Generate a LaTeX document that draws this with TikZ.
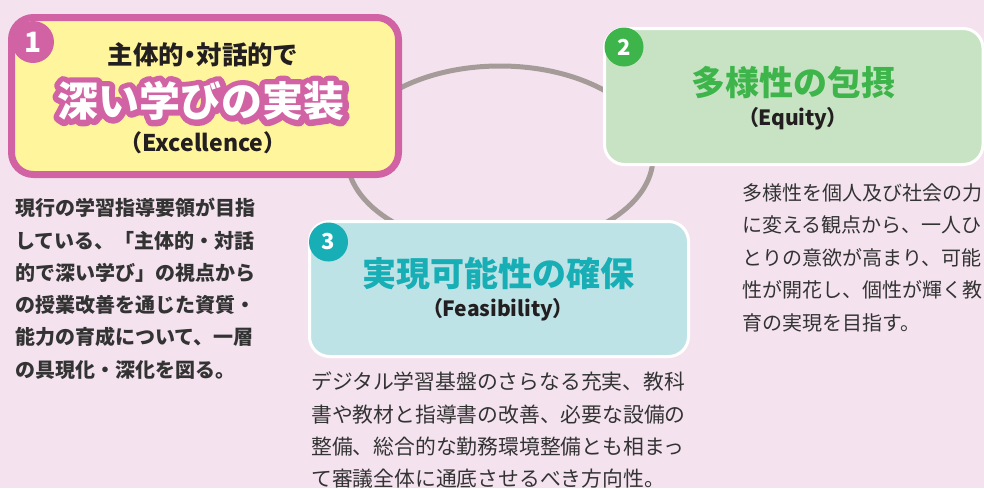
\documentclass[tikz,border=0pt]{standalone}
\usepackage{fontspec}
\setmainfont{Noto Sans CJK JP}
\newfontfamily\jpp[RawFeature=+palt]{Noto Sans CJK JP}
\newfontfamily\jpo[UprightFont=* Bold, FakeBold=30]{Noto Sans CJK JP}
\definecolor{bgc}{HTML}{F4E3EF}
\definecolor{pinkc}{HTML}{D163A4}
\definecolor{yellowc}{HTML}{FFF59D}
\definecolor{greenbox}{HTML}{C8E3C4}
\definecolor{greenc}{HTML}{3DB54A}
\definecolor{tealbox}{HTML}{BEE3E6}
\definecolor{tealc}{HTML}{18AEB5}
\definecolor{ringc}{HTML}{A59B99}
\definecolor{darkc}{HTML}{231F20}
\definecolor{parac}{HTML}{333333}
\begin{document}
\begin{tikzpicture}[x=1pt,y=-1pt,
  ring/.style={draw=ringc, line width=5pt},
  boxone/.style={draw=pinkc, line width=7pt, fill=yellowc, rounded corners=22pt, inner sep=0pt},
  boxw/.style={draw=white, line width=3pt, rounded corners=20pt, inner sep=0pt},
  badge/.style={circle, inner sep=0pt, text=white, font=\bfseries\fontsize{22}{22}\selectfont},
  ttl/.style={inner sep=0pt, font=\bfseries\fontsize{34}{34}\selectfont},
  sub/.style={inner sep=0pt, text=darkc, font=\jpp\bfseries\fontsize{21}{21}\selectfont},
  para/.style={inner sep=0pt, anchor=north west, align=left, text=parac}
]
\useasboundingbox (0,0) rectangle (984,488);
\fill[bgc] (0,0) rectangle (984,488);

% ring connecting the three boxes
\coordinate (rc) at (500,157);
\draw[ring] (rc) ellipse [x radius=153, y radius=91];

% box 1
\node[boxone, minimum width=387pt, minimum height=157pt] (box1) at (205,96) {};
\node[badge, fill=pinkc, minimum size=42pt, font=\bfseries\fontsize{28}{28}\selectfont] (b1) at (33,42) {1};
\node[inner sep=0pt, text=darkc, font=\jpp\bfseries\fontsize{25.5}{25.5}\selectfont] (t1a) at (202,55) {主体的・対話的で};
\begin{scope}[line join=round, line cap=round]
\node[inner sep=0pt, text=pinkc, font=\jpo\fontsize{41}{41}\selectfont] (t1o) at (201,101) {深い学びの実装};
\end{scope}
\node[inner sep=0pt, text=white, font=\bfseries\fontsize{41}{41}\selectfont] (t1b) at (201,101) {深い学びの実装};
\node[sub, font=\jpp\bfseries\fontsize{23}{23}\selectfont] (t1c) at (203,142.5) {（\kern1pt Excellence\kern1pt）};

% box 2
\node[boxw, fill=greenbox, minimum width=378.5pt, minimum height=136pt] (box2) at (793.75,96.5) {};
\node[badge, fill=greenc, minimum size=39pt] (b2) at (624,47) {2};
\node[ttl, text=greenc] (t2a) at (793,83) {多様性の包摂};
\node[sub] (t2b) at (793,119) {（Equity）};

% box 3
\node[boxw, fill=tealbox, minimum width=379pt, minimum height=135pt] (box3) at (499,289) {};
\node[badge, fill=tealc, minimum size=39pt] (b3) at (328.5,242) {3};
\node[ttl, text=tealc] (t3a) at (498,274) {実現可能性の確保};
\node[sub] (t3b) at (498,310) {（Feasibility）};

% paragraphs
\node[para, font=\bfseries\fontsize{20}{32.3}\selectfont] (p1) at (15,198)
  {現行の学習指導要領が目指\\している、「主体的・対話\\的で深い学び」の視点から\\の授業改善を通じた資質・\\能力の育成について、一層\\の具現化・深化を図る。};
\node[para, font=\fontsize{20}{32.5}\selectfont] (p2) at (742,183)
  {多様性を個人及び社会の力\\に変える観点から、一人ひ\\とりの意欲が高まり、可能\\性が開花し、個性が輝く教\\育の実現を目指す。};
\node[para, font=\fontsize{20.8}{32.2}\selectfont] (p3) at (311,372)
  {デジタル学習基盤のさらなる充実、教科\\書や教材と指導書の改善、必要な設備の\\整備、総合的な勤務環境整備とも相まっ\\て審議全体に通底させるべき方向性。};
\end{tikzpicture}
\end{document}
